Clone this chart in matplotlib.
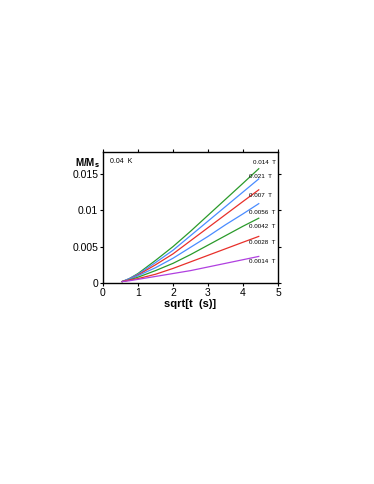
import matplotlib
matplotlib.use("Agg")
import matplotlib.pyplot as plt

plt.rcParams['font.family'] = ['Liberation Sans', 'DejaVu Sans']

x = [0.55, 0.75, 1.0, 1.5, 2.0, 2.5, 3.0, 3.5, 4.0, 4.45]
series = {
    "0.014": [0.0002, 0.0006, 0.0013, 0.0031, 0.0050, 0.0071, 0.0093, 0.0115, 0.0137, 0.0157],
    "0.021": [0.0002, 0.0006, 0.0012, 0.0028, 0.0045, 0.0065, 0.0085, 0.0105, 0.0125, 0.0143],
    "0.007": [0.0002, 0.0005, 0.0011, 0.0025, 0.0040, 0.0058, 0.0076, 0.0094, 0.0112, 0.0128],
    "0.0056": [0.0002, 0.0005, 0.0010, 0.0021, 0.0034, 0.0049, 0.0064, 0.0080, 0.0095, 0.0109],
    "0.0042": [0.0002, 0.0004, 0.0008, 0.0017, 0.0027, 0.0039, 0.0052, 0.0065, 0.0078, 0.0089],
    "0.0028": [0.0002, 0.0004, 0.0006, 0.0012, 0.0020, 0.0029, 0.0038, 0.0047, 0.0056, 0.0064],
    "0.0014": [0.0002, 0.0003, 0.0005, 0.0009, 0.0013, 0.0017, 0.0022, 0.0027, 0.0032, 0.00365],
}
colors = ["#2a9a2a", "#4a8cff", "#e8302a", "#4a8cff", "#2a9a2a", "#e8302a", "#b040e0"]
label_y = [0.0165, 0.0146, 0.0120, 0.0097, 0.0078, 0.0056, 0.0029]
label_x = [4.28, 4.18, 4.18, 4.16, 4.16, 4.16, 4.16]

fig = plt.figure(figsize=(3.74, 4.84), dpi=100)
ax = fig.add_axes([0.2754, 0.4153, 0.4679, 0.2707])

for (name, vals), c, ly, lx in zip(series.items(), colors, label_y, label_x):
    ax.plot(x, vals, color=c, lw=0.9)
    ax.text(lx, ly, name + "  T", fontsize=4.5, va="center", ha="left")

ax.text(0.2, 0.0167, "0.04  K", fontsize=5, va="center", ha="left")

ax.set_xlim(0, 5)
ax.set_ylim(0, 0.018)
ax.set_xticks([0, 1, 2, 3, 4, 5])
ax.set_xticklabels(["0", "1", "2", "3", "4", "5"])
ax.set_yticks([0, 0.005, 0.01, 0.015])
ax.set_yticklabels(["0", "0.005", "0.01", "0.015"])
ax.tick_params(direction="out", length=2.5, width=0.8, labelsize=7.5,
               top=True, right=True, pad=1)
for s in ax.spines.values():
    s.set_linewidth(1.0)

ax.set_xlabel("sqrt[t  (s)]", fontsize=8, fontweight="bold", labelpad=1)
ax.text(-0.16, 0.915, r"M/M$_\mathbf{s}$", transform=ax.transAxes,
        fontsize=7, fontweight="bold", ha="left", va="center")

fig.savefig("out.png", dpi=100)
